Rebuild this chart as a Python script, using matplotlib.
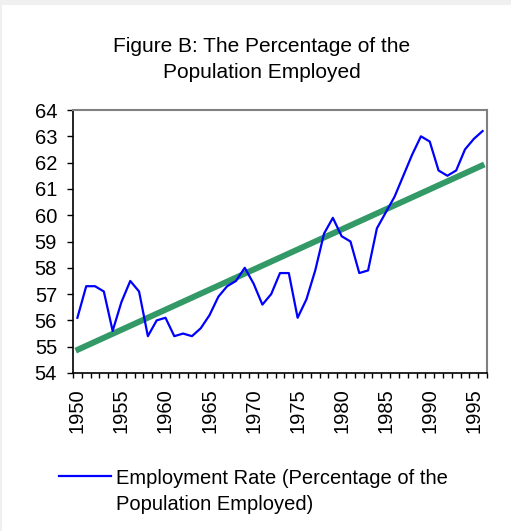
import matplotlib.pyplot as plt
import numpy as np
from matplotlib.lines import Line2D
from matplotlib.patches import Rectangle

plt.rcParams['font.family'] = ['Liberation Sans', 'DejaVu Sans']

# employment rate, 1950-1996
years = np.arange(1950, 1997)
rate = [56.1, 57.3, 57.3, 57.1, 55.6, 56.7, 57.5, 57.1, 55.4, 56.0,
        56.1, 55.4, 55.5, 55.4, 55.7, 56.2, 56.9, 57.3, 57.5, 58.0,
        57.4, 56.6, 57.0, 57.8, 57.8, 56.1, 56.8, 57.9, 59.3, 59.9,
        59.2, 59.0, 57.8, 57.9, 59.5, 60.1, 60.7, 61.5, 62.3, 63.0,
        62.8, 61.7, 61.5, 61.7, 62.5, 62.9, 63.2]

# linear trend end points
trend_years = [1949.8, 1996.2]
trend_vals = [54.85, 61.93]

label_years = list(range(1950, 1996, 5))
yticks = list(range(54, 65))

W, H = 511, 531
fig = plt.figure(figsize=(W / 100, H / 100), dpi=100, facecolor='#f0f0f0')
fig.add_artist(Rectangle((2 / W, 0), 1, 1 - 5 / H, transform=fig.transFigure,
                         facecolor='white', edgecolor='none', zorder=-10))

ax = fig.add_axes([73 / W, 1 - 373 / H, (487 - 73) / W, (373 - 110) / H])

ax.plot(trend_years, trend_vals, color='#339966', lw=4.3, solid_capstyle='butt', zorder=2)
ax.plot(years, rate, color='#0000ff', lw=1.6, zorder=3)

ax.set_xlim(1949.5, 1996.5)
ax.set_ylim(54, 64)
ax.set_yticks(yticks)
ax.tick_params(axis='y', direction='out', length=4.5, width=1, pad=7, labelsize=14.5)

ax.set_xticks(label_years)
ax.set_xticklabels([str(y) for y in label_years], rotation=90, fontsize=14.5)
ax.set_xticks(np.arange(1949.5, 1997, 1.0), minor=True)
ax.tick_params(axis='x', which='major', length=0, pad=11)
ax.tick_params(axis='x', which='minor', direction='out', length=3.5, width=1)

for s in ['left', 'bottom']:
    ax.spines[s].set_color('black')
    ax.spines[s].set_linewidth(1.2)
for s in ['top', 'right']:
    ax.spines[s].set_color('#808080')
    ax.spines[s].set_linewidth(1.5)

# title
fig.text(262 / W, 1 - 52 / H, 'Figure B: The Percentage of the', ha='center',
         va='baseline', fontsize=15)
fig.text(262 / W, 1 - 78 / H, 'Population Employed', ha='center',
         va='baseline', fontsize=15)

# legend
fig.add_artist(Line2D([59 / W, 111 / W], [1 - 476 / H, 1 - 476 / H],
                      transform=fig.transFigure, color='#0000ff', lw=1.6))
fig.text(116 / W, 1 - 484 / H, 'Employment Rate (Percentage of the',
         va='baseline', fontsize=14.5)
fig.text(116 / W, 1 - 509.5 / H, 'Population Employed)',
         va='baseline', fontsize=14.5)

fig.savefig('out.png', dpi=100, facecolor=fig.get_facecolor())
